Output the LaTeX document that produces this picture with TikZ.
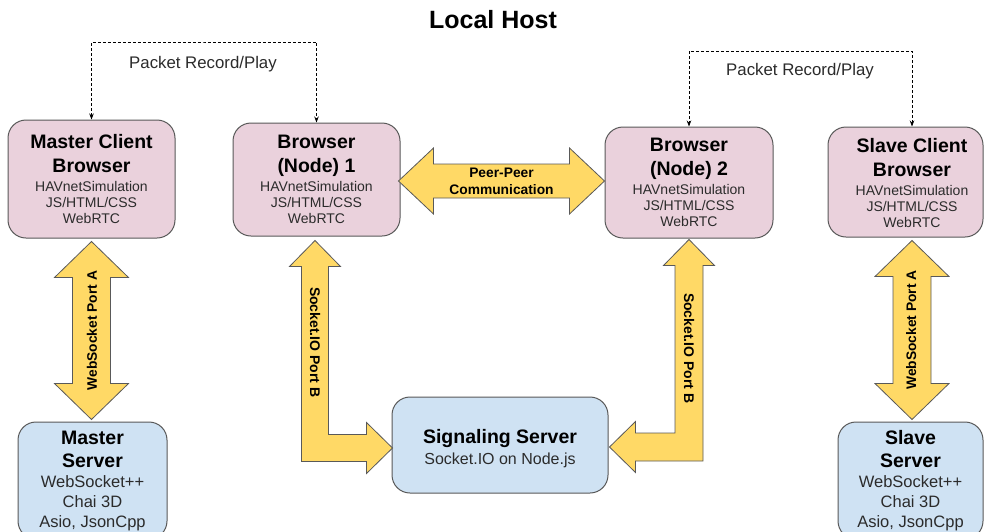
\documentclass[tikz,border=0pt]{standalone}
\usepackage{fontspec}
\setmainfont{Liberation Sans}
\usetikzlibrary{arrows.meta,calc}

\definecolor{pinkfill}{HTML}{EAD1DC}
\definecolor{bluefill}{HTML}{CFE2F3}
\definecolor{bandfill}{HTML}{FFD966}
\definecolor{edgegray}{HTML}{595959}
\definecolor{textgray}{HTML}{2B2B2B}

% bold heading line inside a box
\newcommand\bhead[1]{{\fontsize{19.5pt}{22pt}\selectfont\bfseries\color{black}#1}}

% straight vertical double band arrow: #1 top tip, #2 bottom tip
\newcommand\vband[2]{%
  \draw[band] let \p1=(#1), \p2=(#2) in
    (\x1,\y1) -- (\x1+37pt,\y1-36pt) -- (\x1+19pt,\y1-36pt) -- (\x1+19pt,\y2+36pt)
    -- (\x1+37pt,\y2+36pt) -- (\x1,\y2) -- (\x1-37pt,\y2+36pt) -- (\x1-19pt,\y2+36pt)
    -- (\x1-19pt,\y1-36pt) -- (\x1-37pt,\y1-36pt) -- cycle;}

% straight horizontal double band arrow: #1 left tip, #2 right tip
\newcommand\hband[2]{%
  \draw[band] let \p1=(#1), \p2=(#2), \p3=($(#1)!0.5!(#2)$) in
    (\x1,\y3) -- (\x1+35pt,\y3+33pt) -- (\x1+35pt,\y3+17pt) -- (\x2-35pt,\y3+17pt)
    -- (\x2-35pt,\y3+33pt) -- (\x2,\y3) -- (\x2-35pt,\y3-33pt) -- (\x2-35pt,\y3-17pt)
    -- (\x1+35pt,\y3-17pt) -- (\x1+35pt,\y3-33pt) -- cycle;}

% L-shaped double band: #1 top tip, #2 side tip to the right
\newcommand\lbandright[2]{%
  \draw[band] let \p1=(#1), \p2=(#2) in
    (\x1,\y1) -- (\x1+25.5pt,\y1-26pt) -- (\x1+13.5pt,\y1-26pt) -- (\x1+13.5pt,\y2+13.5pt)
    -- (\x2-26pt,\y2+13.5pt) -- (\x2-26pt,\y2+25.5pt) -- (\x2,\y2) -- (\x2-26pt,\y2-25.5pt)
    -- (\x2-26pt,\y2-13.5pt) -- (\x1-13.5pt,\y2-13.5pt) -- (\x1-13.5pt,\y1-26pt)
    -- (\x1-25.5pt,\y1-26pt) -- cycle;}

% L-shaped double band: #1 top tip, #2 side tip to the left
\newcommand\lbandleft[2]{%
  \draw[band] let \p1=(#1), \p2=(#2) in
    (\x1,\y1) -- (\x1+25.5pt,\y1-26pt) -- (\x1+14pt,\y1-26pt) -- (\x1+14pt,\y2-14pt)
    -- (\x2+26pt,\y2-14pt) -- (\x2+26pt,\y2-25.5pt) -- (\x2,\y2) -- (\x2+26pt,\y2+25.5pt)
    -- (\x2+26pt,\y2+14pt) -- (\x1-14pt,\y2+14pt) -- (\x1-14pt,\y1-26pt)
    -- (\x1-25.5pt,\y1-26pt) -- cycle;}

\tikzset{
  box/.style={draw=edgegray, line width=1pt, rounded corners=18pt, inner sep=0pt,
    align=center, text=textgray},
  browserbox/.style={box, fill=pinkfill, font=\fontsize{14pt}{16pt}\selectfont},
  serverbox/.style={box, fill=bluefill, font=\fontsize{16.5pt}{20pt}\selectfont},
  band/.style={draw=edgegray, fill=bandfill, line width=0.8pt, line join=miter},
  bandlabel/.style={font=\fontsize{13.8pt}{17pt}\selectfont\bfseries, align=center, inner sep=0pt},
  rec/.style={draw=black, line width=0.7pt, dash pattern=on 3pt off 2pt,
    {Stealth[length=6pt,width=4.5pt]}-{Stealth[length=6pt,width=4.5pt]}},
  reclabel/.style={font=\fontsize{16.8pt}{19pt}\selectfont, text=textgray, inner sep=0pt},
}

\begin{document}
\begin{tikzpicture}[x=1pt,y=-1pt]
  \useasboundingbox (0,0) rectangle (985,531);
  \clip (0,0) rectangle (985,531);
  \fill[white] (0,0) rectangle (985,531);

  \node[font=\fontsize{25pt}{28pt}\selectfont\bfseries] (title) at (493,20) {Local Host};

  % browsers
  \node[browserbox, minimum width=167pt, minimum height=118pt] (mc) at (91.5,179)
    {\bhead{Master Client}\\[8pt]\bhead{Browser}\\[3pt]HAVnetSimulation\\JS/HTML/CSS\\WebRTC};
  \node[browserbox, minimum width=167pt, minimum height=113pt] (n1) at (316.5,179.5)
    {\bhead{Browser}\\[8pt]\bhead{(Node) 1}\\[3pt]HAVnetSimulation\\JS/HTML/CSS\\WebRTC};
  \node[browserbox, minimum width=168pt, minimum height=111pt] (n2) at (689,182.5)
    {\bhead{Browser}\\[8pt]\bhead{(Node) 2}\\[3pt]HAVnetSimulation\\JS/HTML/CSS\\WebRTC};
  \node[browserbox, minimum width=155pt, minimum height=110pt] (sc) at (905.5,182) {};
  \node[align=center, text=textgray, font=\fontsize{14pt}{16pt}\selectfont, inner sep=0pt]
    (sctext) at (912,183)
    {\bhead{Slave Client}\\[8pt]\bhead{Browser}\\[3pt]HAVnetSimulation\\JS/HTML/CSS\\WebRTC};

  % servers
  \node[serverbox, minimum width=149pt, minimum height=117pt] (ms) at (92.5,480.5)
    {\bhead{Master}\\[3pt]\bhead{Server}\\WebSocket++\\Chai 3D\\Asio, JsonCpp};
  \node[serverbox, minimum width=216pt, minimum height=96pt,
        font=\fontsize{16pt}{20pt}\selectfont] (sig) at (500,445)
    {\bhead{\rule{0pt}{21pt}Signaling Server}\\[1pt]Socket.IO on Node.js};
  \node[serverbox, minimum width=145pt, minimum height=117pt] (ss) at (910.5,480.5)
    {\bhead{Slave}\\[3pt]\bhead{Server}\\WebSocket++\\Chai 3D\\Asio, JsonCpp};

  % band arrow end points
  \coordinate (wsl-t) at ([yshift=-3pt]mc.south);
  \coordinate (wsl-b) at ([yshift=2pt]ms.north);
  \coordinate (wsr-t) at ([xshift=6.5pt,yshift=-3pt]sc.south);
  \coordinate (wsr-b) at ([yshift=2pt]ss.north);
  \coordinate (pp-l) at ([xshift=-2pt]n1.east);
  \coordinate (pp-r) at (n2.west);
  \coordinate (sbl-t) at ([xshift=-1.5pt,yshift=-4pt]n1.south);
  \coordinate (sbl-s) at ([xshift=1pt,yshift=-3pt]sig.west);
  \coordinate (sbr-t) at ([yshift=-1pt]n2.south);
  \coordinate (sbr-s) at ([xshift=1pt,yshift=-2pt]sig.east);

  \vband{wsl-t}{wsl-b}
  \vband{wsr-t}{wsr-b}
  \hband{pp-l}{pp-r}
  \lbandright{sbl-t}{sbl-s}
  \lbandleft{sbr-t}{sbr-s}

  \node[bandlabel, rotate=90] (wsl-lab) at ($(wsl-t)!0.5!(wsl-b)$) {WebSocket Port A};
  \node[bandlabel, rotate=90] (wsr-lab) at ($(wsr-t)!0.5!(wsr-b)$) {WebSocket Port A};
  \node[bandlabel, font=\fontsize{13.8pt}{17pt}\selectfont\bfseries] (pp-lab)
    at ($(pp-l)!0.5!(pp-r)$) {Peer-Peer\\Communication};
  \node[bandlabel, font=\fontsize{14pt}{17pt}\selectfont\bfseries, rotate=-90] (sbl-lab)
    at ([yshift=2pt]$(sbl-t)!0.5!(sbl-t |- sbl-s)$) {Socket.IO Port B};
  \node[bandlabel, font=\fontsize{14pt}{17pt}\selectfont\bfseries, rotate=-90] (sbr-lab)
    at ([yshift=-5pt]$(sbr-t)!0.5!(sbr-t |- sbr-s)$) {Socket.IO Port B};

  % packet record / play links
  \coordinate (rec1) at (203,42);
  \coordinate (rec2) at (800,51);
  \draw[rec] (mc.north) |- (rec1) -| (n1.north);
  \draw[rec] ([xshift=6.5pt]sc.north) |- (rec2) -| (n2.north);
  \node[reclabel] (rec1-lab) at (203,64) {Packet Record/Play};
  \node[reclabel] (rec2-lab) at (800,71) {Packet Record/Play};
\end{tikzpicture}
\end{document}
